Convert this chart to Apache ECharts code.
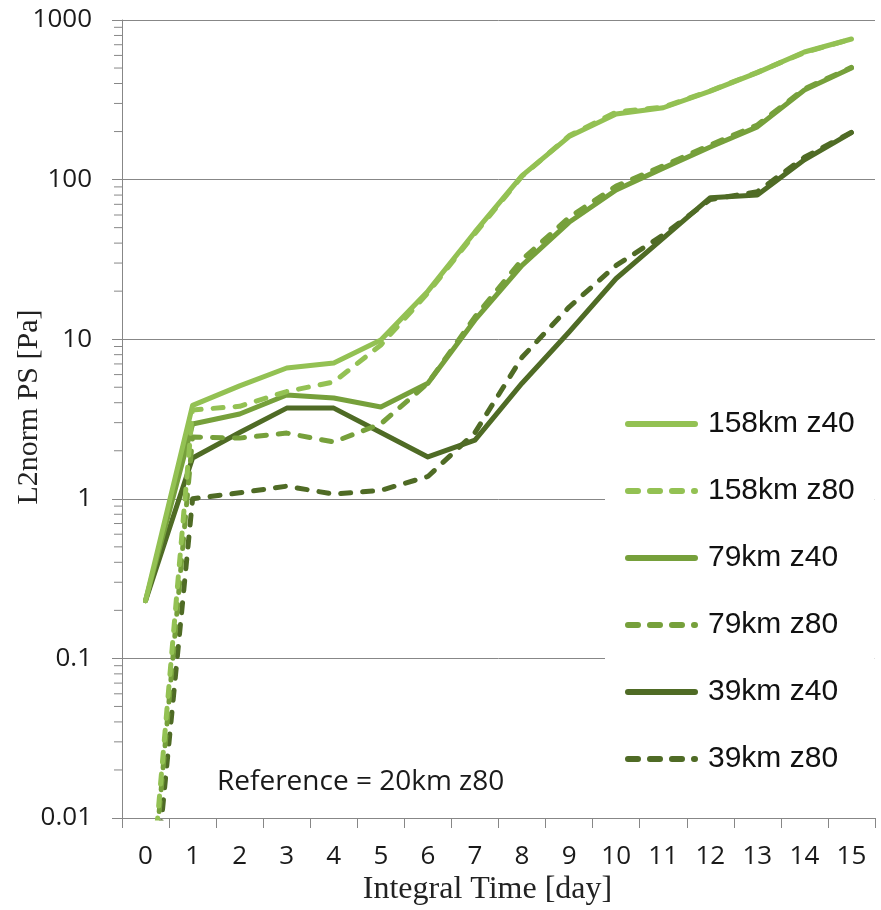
<!DOCTYPE html>
<html><head><meta charset="utf-8">
<script src="https://cdn.jsdelivr.net/npm/echarts@6/dist/echarts.min.js"></script>
<style>html,body{margin:0;padding:0;background:#fff}#c{width:881px;height:910px}</style>
</head><body><div id="c"></div>
<script>
const days = ['0','1','2','3','4','5','6','7','8','9','10','11','12','13','14','15'];
const s158z40 = [0.23, 3.85, 5.1, 6.6, 7.1, 9.9, 20, 47, 106, 186, 258, 282, 358, 468, 630, 760];
const s158z80 = [0.0013, 3.6, 3.8, 4.7, 5.4, 9.2, 19.5, 46, 105, 188, 265, 285, 360, 470, 625, 760];
const s79z40  = [0.23, 2.94, 3.4, 4.47, 4.28, 3.76, 5.3, 13.2, 29, 54, 86, 118, 160, 214, 364, 500];
const s79z80  = [0.0012, 2.44, 2.4, 2.58, 2.27, 2.95, 5.3, 13.8, 31.5, 58, 91, 122, 165, 220, 370, 505];
const s39z40  = [0.23, 1.8, 2.6, 3.7, 3.7, 2.6, 1.83, 2.33, 5.3, 11.1, 24, 43, 77, 80, 133, 197];
const s39z80  = [0.0009, 1.0, 1.09, 1.2, 1.07, 1.13, 1.38, 2.6, 7.7, 15.9, 29, 45, 75, 84, 138, 198];
const seriesNames = ['158km z40','158km z80','79km z40','79km z80','39km z40','39km z80'];
const yMajorValues = [0.01, 0.1, 1, 10, 100, 1000];
const minorMultipliers = [2,3,4,5,6,7,8,9];
const minorDecades = [0.01, 0.1, 1, 10, 100];

const light = '#93c153', mid = '#76a03b', dark = '#4f6b25';
const seriesData = [s158z40, s158z80, s79z40, s79z80, s39z40, s39z80];
const seriesColors = [light, light, mid, mid, dark, dark];
const seriesDashed = [false, true, false, true, false, true];

const minorTicks = [];
minorDecades.forEach(d => minorMultipliers.forEach(m => minorTicks.push([0, +(d*m).toPrecision(3)])));

const chart = echarts.init(document.getElementById('c'), null, {renderer:'canvas'});
const axisGray = '#878787';
const series = seriesData.map((d, i) => ({
  name: seriesNames[i], type: 'line', data: d, symbol: 'none', showSymbol: false, clip: true,
  z: 10 - i,
  lineStyle: { color: seriesColors[i], width: 5, type: seriesDashed[i] ? [10, 12] : 'solid', cap: 'round', join: 'round' },
  itemStyle: { color: seriesColors[i] }
}));
series.push({
  type: 'custom', name: 'minor', silent: true, data: minorTicks, clip: false,
  renderItem: function (params, api) {
    const p = api.coord([api.value(0), api.value(1)]);
    const x0 = params.coordSys.x;
    return { type: 'line', shape: { x1: x0 - 8, y1: p[1], x2: x0, y2: p[1] }, style: { stroke: axisGray, lineWidth: 1 } };
  }
});

chart.setOption({
  animation: false,
  backgroundColor: '#fff',
  grid: { left: 122, right: 6, top: 20, bottom: 92, containLabel: false, outerBoundsMode: 'none' },
  xAxis: {
    type: 'category', data: days, boundaryGap: true,
    name: 'Integral Time [day]', nameLocation: 'middle', nameGap: 56, nameMoveOverlap: false,
    nameTextStyle: { fontFamily: 'Liberation Serif', fontSize: 32, color: '#222', padding: [0, 22, 0, 0] },
    axisLine: { lineStyle: { color: axisGray, width: 1 } },
    axisTick: { show: true, length: 10, inside: false, alignWithLabel: false, lineStyle: { color: axisGray } },
    axisLabel: { margin: 26, fontFamily: 'Open Sans', fontSize: 26, color: '#1a1a1a', interval: 0 },
    splitLine: { show: false }
  },
  yAxis: {
    type: 'log', logBase: 10, min: 0.01, max: 1000,
    name: 'L2norm PS [Pa]', nameLocation: 'middle', nameGap: 78, nameRotate: 90, nameMoveOverlap: false,
    nameTextStyle: { fontFamily: 'Liberation Serif', fontSize: 30, color: '#222', padding: [0, 0, 0, 24] },
    axisLine: { show: true, lineStyle: { color: axisGray, width: 1 } },
    axisTick: { show: true, length: 10, lineStyle: { color: axisGray } },
    axisLabel: { margin: 30, fontFamily: 'Open Sans', fontSize: 26, color: '#1a1a1a',
      formatter: v => { const m = yMajorValues.find(t => Math.abs(t - v) / t < 1e-6); return m !== undefined ? String(m) : ''; } },
    splitLine: { show: true, lineStyle: { color: axisGray, width: 1 } }
  },
  legend: {
    data: seriesNames, orient: 'vertical', left: 605, top: 389,
    backgroundColor: '#fff', padding: [20, 20, 20, 20],
    itemWidth: 67, itemHeight: 14, itemGap: 37,
    lineStyle: { width: 6 },
    itemStyle: { opacity: 0 },
    textStyle: { fontFamily: 'Liberation Sans', fontSize: 30, color: '#111', padding: [0, 0, 0, 8] },
    selectedMode: false
  },
  graphic: [{
    type: 'text', left: 217, top: 768,
    style: { text: 'Reference = 20km z80', fontFamily: 'Open Sans', fontSize: 28, fill: '#1a1a1a' }
  }],
  series: series
});
</script></body></html>
